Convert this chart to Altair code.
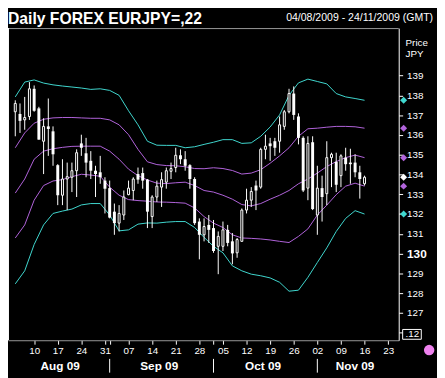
import altair as alt
import pandas as pd

title_text = "Daily FOREX EURJPY=,22"
subtitle_text = "04/08/2009 - 24/11/2009 (GMT)"
axis_title_lines = ["Price", "JPY"]
corner_label = ".12"

# Daily candles, trading-day index 0 = 04/08/2009
open_ = [137.17, 137.06, 136.76, 136.93, 138.33, 137.34, 135.68, 136.43, 136.18, 134.47,
         132.95, 133.77, 133.86, 134.19, 135.57, 135.07, 134.69, 134.19, 134.11, 133.69,
         133.31, 132.12, 131.54, 131.95, 132.98, 133.19, 134.02, 134.07, 133.74, 131.87,
         132.86, 133.36, 133.61, 134.16, 134.35, 134.97, 134.77, 134.47, 133.77, 131.62,
         130.95, 131.45, 131.29, 130.37, 130.37, 131.20, 130.62, 130.04, 130.62, 132.20,
         132.70, 133.44, 133.36, 135.27, 135.57, 135.68, 135.68, 136.43, 137.17, 138.09,
         136.93, 135.85, 133.31, 135.63, 131.95, 133.31, 133.03, 134.85, 134.64, 133.94,
         134.85, 134.60, 134.60, 134.11, 133.53]
high = [137.75, 137.59, 137.92, 138.67, 138.50, 137.42, 136.84, 137.84, 136.43, 134.52,
        134.77, 134.60, 134.60, 135.27, 136.01, 135.85, 135.18, 134.44, 134.94, 133.86,
        133.69, 132.53, 132.45, 133.19, 133.69, 133.86, 134.35, 134.35, 133.77, 132.95,
        133.69, 134.11, 134.35, 134.60, 135.35, 135.27, 135.18, 134.52, 133.86, 131.78,
        131.78, 131.95, 131.70, 131.12, 131.62, 131.45, 131.04, 130.79, 132.28, 133.28,
        133.36, 133.69, 135.35, 136.01, 135.85, 135.85, 136.93, 137.26, 138.33, 138.45,
        137.09, 135.93, 135.93, 135.93, 134.44, 133.94, 135.68, 135.10, 135.10, 135.02,
        135.35, 135.30, 135.02, 134.44, 133.94]
low = [135.93, 136.10, 136.26, 136.76, 137.17, 135.76, 134.02, 134.94, 134.44, 132.45,
       132.45, 132.20, 133.11, 132.86, 134.94, 133.86, 133.77, 132.86, 133.53, 132.03,
       131.78, 130.95, 131.12, 131.70, 132.95, 132.70, 133.53, 133.28, 131.29, 131.29,
       132.61, 132.36, 133.28, 133.77, 134.11, 134.52, 134.19, 133.28, 131.45, 129.71,
       130.62, 130.54, 130.04, 128.96, 130.13, 130.37, 129.46, 129.79, 130.62, 132.03,
       132.36, 132.20, 133.28, 134.77, 134.69, 134.94, 135.10, 136.26, 137.09, 136.76,
       135.52, 133.11, 132.70, 132.20, 130.95, 131.62, 132.45, 133.36, 133.11, 133.36,
       134.19, 133.53, 133.86, 132.78, 133.44]
close = [137.59, 136.71, 136.88, 138.33, 137.22, 135.76, 136.43, 136.30, 135.02, 132.95,
         133.77, 133.89, 134.19, 135.10, 135.35, 134.60, 134.19, 134.02, 133.86, 133.28,
         131.82, 131.54, 132.03, 132.86, 133.31, 133.77, 133.74, 133.69, 132.12, 132.86,
         133.41, 133.74, 134.19, 134.30, 134.97, 134.77, 134.44, 133.77, 131.54, 130.95,
         131.37, 131.20, 130.13, 130.87, 131.20, 130.54, 130.01, 130.71, 132.20, 132.70,
         133.14, 133.19, 135.27, 135.43, 135.43, 135.35, 136.51, 137.17, 138.09, 137.01,
         135.85, 133.19, 135.57, 132.25, 133.31, 132.86, 134.85, 135.02, 133.48, 134.94,
         134.52, 134.52, 134.11, 133.77, 133.86]

# Band lines, read every second trading day
band_idx = list(range(0, 75, 2))
upper2 = [137.92, 138.67, 138.78, 138.62, 138.53, 138.47, 138.42, 138.37, 138.30, 138.33,
          138.25, 138.00, 137.22, 136.51, 135.68, 135.48, 135.47, 135.47, 135.35, 135.40,
          135.52, 135.63, 135.76, 135.76, 135.57, 135.60, 135.93, 136.40, 137.01, 138.00,
          138.63, 138.82, 138.70, 138.58, 138.09, 137.92, 137.84, 137.75]
upper1 = [135.35, 136.10, 136.59, 136.79, 136.86, 136.88, 136.88, 136.86, 136.84, 136.84,
          136.76, 136.51, 136.01, 135.27, 134.64, 134.50, 134.45, 134.44, 134.39, 134.30,
          134.29, 134.34, 134.30, 134.20, 134.02, 134.07, 134.24, 134.57, 134.94, 135.35,
          135.93, 136.31, 136.34, 136.39, 136.43, 136.43, 136.41, 136.34]
middle = [133.06, 133.77, 134.77, 135.18, 135.30, 135.37, 135.42, 135.43, 135.43, 135.43,
          135.18, 134.77, 134.27, 133.94, 133.72, 133.56, 133.54, 133.58, 133.61, 133.44,
          133.19, 133.11, 132.95, 132.75, 132.48, 132.41, 132.53, 132.75, 132.95, 133.19,
          133.53, 133.77, 134.07, 134.40, 134.65, 134.85, 134.98, 134.85]
lower1 = [130.79, 131.45, 132.70, 133.44, 133.67, 133.74, 133.89, 134.01, 133.97, 133.91,
          133.36, 132.95, 132.73, 132.68, 132.65, 132.61, 132.60, 132.58, 132.55, 132.31,
          131.87, 131.54, 131.32, 130.95, 130.79, 130.77, 130.74, 130.69, 130.62, 130.56,
          130.87, 131.25, 131.95, 132.45, 132.98, 133.41, 133.56, 133.41]
lower2 = [128.47, 129.13, 130.46, 131.45, 132.03, 132.15, 132.25, 132.46, 132.53, 132.53,
          131.95, 131.15, 131.20, 131.49, 131.55, 131.54, 131.59, 131.62, 131.62, 131.32,
          130.82, 130.37, 130.04, 129.38, 129.13, 128.96, 128.88, 128.77, 128.55, 128.10,
          128.15, 128.80, 129.55, 130.29, 131.12, 131.78, 132.17, 132.00]

# Axis labels
tick_idx = [4, 9, 14, 19, 24, 29, 34, 39, 44, 49, 54, 59, 64, 69, 74, 79]
tick_labels = ["10", "17", "24", "31", "07", "14", "21", "28",
               "05", "12", "19", "26", "02", "09", "16", "23"]
month_names = ["Aug 09", "Sep 09", "Oct 09", "Nov 09"]
month_first = [0, 20, 42, 64]
month_last = [19, 41, 63, 80]
price_ticks = list(range(126, 140))

# ---------------------------------------------------------------
W, H = 398, 318
FONT = "Liberation Sans, Arial, sans-serif"
CYAN = "#40d8d0"
PURPLE = "#b264dc"
GRAY = "#9a9a9a"

x_scale = alt.Scale(domain=[-0.5, 80.2], nice=False, zero=False)
y_scale = alt.Scale(domain=[125.62, 141.40], nice=False, zero=False)

idx_arr = "[" + ",".join(str(v) for v in tick_idx) + "]"
lab_arr = "[" + ",".join("'" + s + "'" for s in tick_labels) + "]"
x_label_expr = (f"indexof({idx_arr}, datum.value) >= 0 ? "
                f"{lab_arr}[indexof({idx_arr}, datum.value)] : ''")

x_axis = alt.Axis(values=sorted(set(tick_idx + month_first[1:])), labelExpr=x_label_expr,
                  grid=False, domainColor=GRAY, tickColor="white", tickSize=4,
                  labelColor="white", labelFont=FONT, labelFontSize=10, labelPadding=2,
                  labelFlush=False, labelOverlap=False, title=None)
y_axis = alt.Axis(orient="right", values=price_ticks,
                  labelExpr="datum.value == 126 ? '' : datum.label",
                  grid=False, domainColor="white", tickColor="white", tickSize=4,
                  labelColor="white", labelFont=FONT,
                  labelFontSize={"condition": {"test": "datum.value == 130", "value": 12}, "value": 10},
                  labelFontWeight={"condition": {"test": "datum.value == 130", "value": "bold"}, "value": "normal"},
                  labelPadding=4, labelFlush=False, labelOverlap=False, title=None)

X = lambda f: alt.X(f, scale=x_scale, axis=x_axis)
Y = lambda f: alt.Y(f, scale=y_scale, axis=y_axis)

n = len(open_)
cdf = pd.DataFrame({"idx": list(range(n)), "open": open_, "high": high,
                    "low": low, "close": close})
cdf["dir"] = ["up" if c >= o else "down" for o, c in zip(open_, close)]

band_names = ["upper2", "upper1", "middle", "lower1", "lower2"]
band_series = [upper2, upper1, middle, lower1, lower2]
rows = []
for name, vals in zip(band_names, band_series):
    for k, v in zip(band_idx, vals):
        rows.append({"idx": k, "value": v, "band": name})
bdf = pd.DataFrame(rows)

color_scale = alt.Scale(domain=band_names + ["close"],
                        range=[CYAN, PURPLE, PURPLE, PURPLE, CYAN, "white"])

mdf = pd.DataFrame({"band": band_names + ["close"],
                    "value": [s[-1] for s in band_series] + [close[-1]]})

mdf_months = pd.DataFrame({"idx": [(a + b) / 2 for a, b in zip(month_first, month_last)],
                           "name": month_names})
sep_df = pd.DataFrame({"idx": month_first[1:]})
one = pd.DataFrame({"k": [0]})

bands = alt.Chart(bdf).mark_line(strokeWidth=1).encode(
    x=X("idx:Q"), y=Y("value:Q"),
    color=alt.Color("band:N", scale=color_scale, legend=None))

wicks = alt.Chart(cdf).mark_rule(color="white", strokeWidth=1).encode(
    x=X("idx:Q"), y=Y("low:Q"), y2="high:Q")

up_bodies = alt.Chart(cdf).transform_filter("datum.dir == 'up'").mark_bar(
    size=2, fill="black", stroke="white", strokeWidth=1).encode(
    x=X("idx:Q"), y=Y("open:Q"), y2="close:Q")

down_bodies = alt.Chart(cdf).transform_filter("datum.dir == 'down'").mark_bar(
    size=3, color="white").encode(
    x=X("idx:Q"), y=Y("open:Q"), y2="close:Q")

markers = alt.Chart(mdf).mark_point(shape="diamond", filled=True, size=50, opacity=1).encode(
    x=alt.value(W + 5), y=Y("value:Q"),
    color=alt.Color("band:N", scale=color_scale, legend=None))

top_line = alt.Chart(one).mark_rule(color=GRAY, strokeWidth=1).encode(
    x=alt.value(0), x2=alt.value(W), y=alt.value(0.5))
left_line = alt.Chart(one).mark_rule(color="white", strokeWidth=1).encode(
    x=alt.value(0.5), y=alt.value(0), y2=alt.value(H))

month_text = alt.Chart(mdf_months).mark_text(
    font=FONT, fontSize=12, fontWeight="bold", color="white",
    align="center", baseline="alphabetic").encode(
    x=X("idx:Q"), y=alt.value(H + 30), text="name:N")

month_sep = alt.Chart(sep_df).mark_rule(color="white", strokeWidth=1).encode(
    x=X("idx:Q"), y=alt.value(H + 19), y2=alt.value(H + 33))


def label(text, x, y, size, weight="normal", align="left"):
    return alt.Chart(pd.DataFrame({"t": [text]})).mark_text(
        align=align, baseline="alphabetic", font=FONT, fontSize=size,
        fontWeight=weight, color="white").encode(
        x=alt.value(x), y=alt.value(y), text="t:N")


title = label(title_text, 0, -4, 16, weight="bold")
subtitle = label(subtitle_text, W + 35, -7, 10.7, align="right")
price_lbl = label(axis_title_lines[0], W + 7, 18, 10)
jpy_lbl = label(axis_title_lines[1], W + 7, 29, 10)

box = alt.Chart(one).mark_rect(fill="black", stroke="white", strokeWidth=1).encode(
    x=alt.value(W + 4), x2=alt.value(W + 23), y=alt.value(H - 11), y2=alt.value(H - 1))
box_text = label(corner_label, W + 7, H - 3, 10)

dot = alt.Chart(one).mark_point(shape="circle", filled=True, size=113,
                                color="#ee82ee", opacity=1).encode(
    x=alt.value(W + 31), y=alt.value(H + 10))

chart = alt.layer(
    bands, wicks, up_bodies, down_bodies, markers, top_line, left_line,
    month_text, month_sep, title, subtitle, price_lbl, jpy_lbl, box, box_text, dot
).properties(
    width=W, height=H,
    autosize=alt.AutoSizeParams(type="none"),
    padding={"left": 0, "top": 17, "right": 39, "bottom": 35},
    background="black",
).configure_view(strokeWidth=0)

chart.save("out.html", embed_options={"renderer": "svg", "actions": False})
